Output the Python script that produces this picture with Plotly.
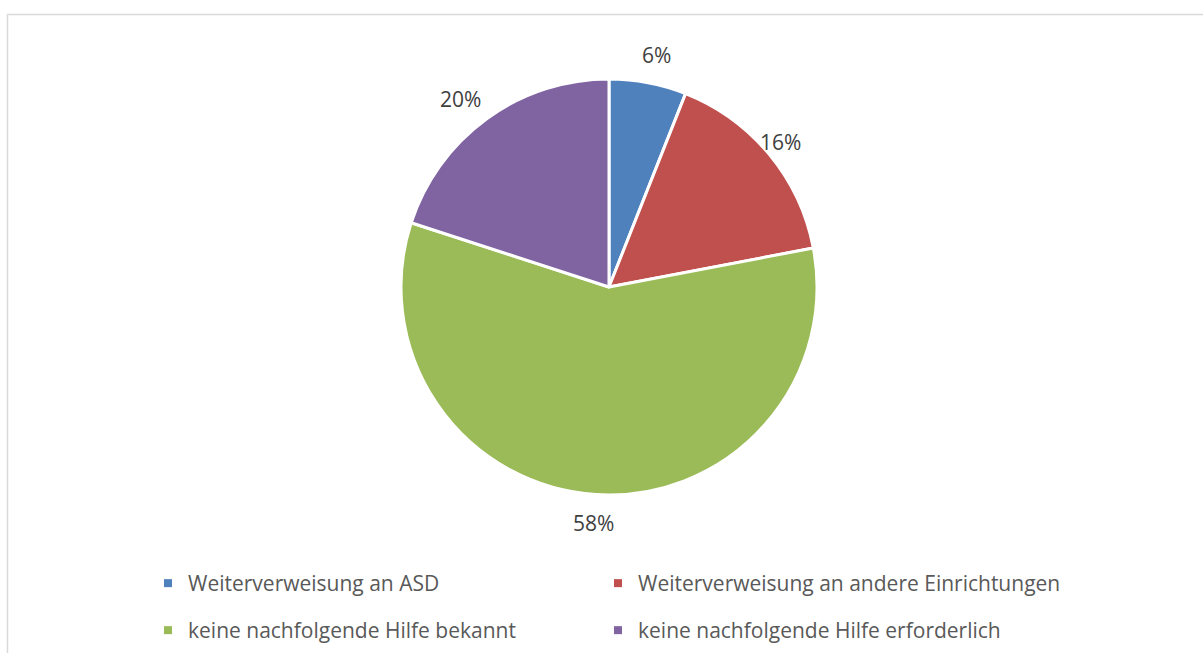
import math

import plotly.graph_objects as go

labels = [
    "Weiterverweisung an ASD",
    "Weiterverweisung an andere Einrichtungen",
    "keine nachfolgende Hilfe bekannt",
    "keine nachfolgende Hilfe erforderlich",
]
values = [6, 16, 58, 20]
colors = ["#4f81bd", "#c0504d", "#9bbb59", "#8064a2"]

W, H = 1203, 653
FONT = "'Open Sans', Lato, sans-serif"

# pie box in pixels (left, top, size)
PIE_L, PIE_T, PIE_D = 401, 79, 416
CX, CY, R = PIE_L + PIE_D / 2, PIE_T + PIE_D / 2, PIE_D / 2
LABEL_R = R + 44

fig = go.Figure()
fig.add_trace(
    go.Pie(
        labels=labels,
        values=values,
        sort=False,
        direction="clockwise",
        rotation=0,
        marker={"colors": colors, "line": {"color": "white", "width": 3}},
        textinfo="none",
        domain={"x": [PIE_L / W, (PIE_L + PIE_D) / W], "y": [1 - (PIE_T + PIE_D) / H, 1 - PIE_T / H]},
        hoverinfo="label+percent",
        showlegend=False,
    )
)

# percentage labels placed just outside each slice, at its middle angle
total = sum(values)
cum = 0
for v in values:
    mid = (cum + v / 2) / total * 2 * math.pi
    cum += v
    fig.add_annotation(
        x=(CX + LABEL_R * math.sin(mid)) / W,
        y=1 - (CY - LABEL_R * math.cos(mid)) / H,
        xref="paper",
        yref="paper",
        text=f"{round(v / total * 100)}%",
        showarrow=False,
        font={"size": 21, "color": "#404040", "family": FONT},
    )

# legend entries, two per row
for i, (name, c) in enumerate(zip(labels, colors)):
    fig.add_trace(
        go.Scatter(
            x=[None],
            y=[None],
            mode="markers",
            name=name,
            marker={"symbol": "square", "size": 8, "color": c},
            legend="legend" if i < 2 else "legend2",
            legendwidth=405 if i % 2 == 0 else 470,
        )
    )

legend_common = {
    "orientation": "h",
    "x": 148 / W,
    "xanchor": "left",
    "yanchor": "top",
    "entrywidthmode": "pixels",
    "font": {"size": 21, "color": "#595959", "family": FONT},
    "bgcolor": "rgba(0,0,0,0)",
}

fig.update_layout(
    width=W,
    height=H,
    margin={"l": 0, "r": 0, "t": 0, "b": 0},
    paper_bgcolor="white",
    plot_bgcolor="white",
    font={"family": FONT, "color": "#595959"},
    xaxis={"visible": False},
    yaxis={"visible": False},
    legend={**legend_common, "y": 1 - 563 / H},
    legend2={**legend_common, "y": 1 - 610 / H},
    shapes=[
        {
            "type": "rect",
            "xref": "paper",
            "yref": "paper",
            "x0": 7.5 / W,
            "x1": 1.2,
            "y0": -0.2,
            "y1": 1 - 14.5 / H,
            "line": {"color": "#d9d9d9", "width": 1.5},
        }
    ],
)

fig.write_html(
    "out.html",
    config={"displayModeBar": False},
    post_script="document.body.style.margin = '0';",
)
